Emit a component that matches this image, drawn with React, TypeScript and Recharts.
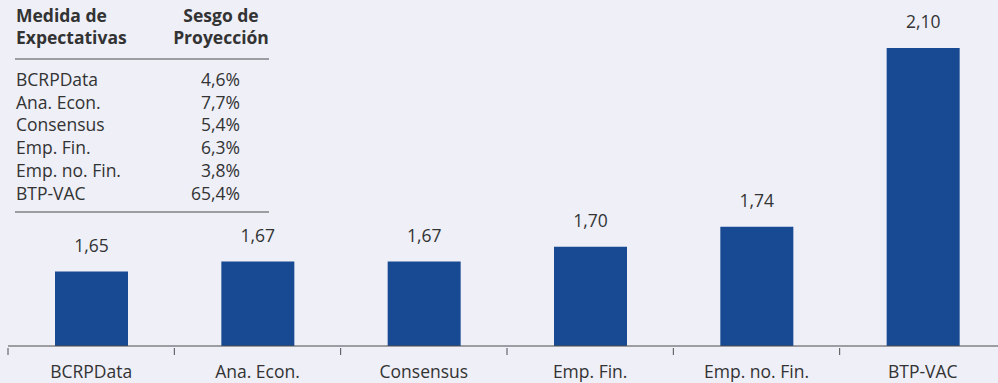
import { BarChart, Bar, XAxis, YAxis, LabelList } from 'recharts';

const categories = ['BCRPData', 'Ana. Econ.', 'Consensus', 'Emp. Fin.', 'Emp. no. Fin.', 'BTP-VAC'];
const values = [1.65, 1.67, 1.67, 1.7, 1.74, 2.1];

const tableMeasures = ['BCRPData', 'Ana. Econ.', 'Consensus', 'Emp. Fin.', 'Emp. no. Fin.', 'BTP-VAC'];
const tableBias = ['4,6%', '7,7%', '5,4%', '6,3%', '3,8%', '65,4%'];

const data = categories.map((name, i) => ({ name, value: values[i] }));

const FONT = '"Open Sans", "Noto Sans", sans-serif';
const FS = 17.5;
const TEXT = '#333333';
const AXIS = '#4d4d4d';
const BAR = '#174a92';
const BG = '#eeeff7';

const fmt = (v: number) => v.toFixed(2).replace('.', ',');

function EdgeTick(props: any) {
  const { x, y, payload, index } = props;
  const half = payload?.offset ?? 0;
  const last = index === categories.length - 1;
  return (
    <g>
      <line x1={x - half} x2={x - half} y1={y} y2={y + 7} stroke={AXIS} strokeWidth={1} />
      {last && <line x1={x + half} x2={x + half} y1={y} y2={y + 7} stroke={AXIS} strokeWidth={1} />}
      <text x={x} y={y + 29.5} textAnchor="middle" fill={TEXT} fontSize={FS} fontFamily={FONT}>
        {payload.value}
      </text>
    </g>
  );
}

function Table() {
  return (
    <svg
      width={300}
      height={230}
      style={{ position: 'absolute', left: 0, top: 0 }}
      fontFamily={FONT}
      fontSize={FS}
    >
      <text x={16} y={21.5} fill={TEXT} fontWeight={700}>Medida de</text>
      <text x={16} y={44} fill={TEXT} fontWeight={700}>Expectativas</text>
      <text x={221} y={21.5} fill={TEXT} fontWeight={700} textAnchor="middle">Sesgo de</text>
      <text x={221} y={44} fill={TEXT} fontWeight={700} textAnchor="middle">Proyección</text>
      <line x1={15} x2={269} y1={59} y2={59} stroke={AXIS} strokeWidth={1.2} />
      {tableMeasures.map((m, i) => (
        <g key={m}>
          <text x={16} y={86 + i * 22.7} fill={TEXT}>{m}</text>
          <text x={240} y={86 + i * 22.7} fill={TEXT} textAnchor="end">{tableBias[i]}</text>
        </g>
      ))}
      <line x1={15} x2={269} y1={212} y2={212} stroke={AXIS} strokeWidth={1.2} />
    </svg>
  );
}

export default function App() {
  return (
    <div
      style={{
        position: 'absolute',
        left: 0,
        top: 0,
        width: 998,
        height: 383,
        overflow: 'hidden',
        background: BG,
      }}
    >
      <BarChart
        width={1006}
        height={383}
        data={data}
        margin={{ top: 48, right: 0, bottom: 0, left: 8 }}
      >
        <XAxis
          dataKey="name"
          height={37}
          axisLine={{ stroke: AXIS, strokeWidth: 1 }}
          tickLine={false}
          tickSize={0}
          interval={0}
          tick={<EdgeTick />}
        />
        <YAxis hide domain={[1.5, 2.1]} allowDataOverflow />
        <Bar dataKey="value" fill={BAR} barSize={73} isAnimationActive={false}>
          <LabelList
            dataKey="value"
            position="top"
            offset={20}
            formatter={(v: any) => fmt(Number(v))}
            fill={TEXT}
            fontSize={FS}
            fontFamily={FONT}
          />
        </Bar>
      </BarChart>
      <Table />
    </div>
  );
}
